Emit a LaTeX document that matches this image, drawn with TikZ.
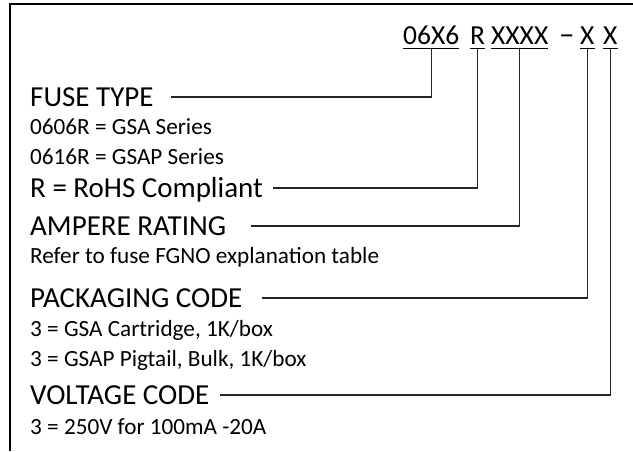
\documentclass[tikz,border=0pt]{standalone}
\usepackage{fontspec}
\setmainfont{Carlito}
\begin{document}
\begin{tikzpicture}[x=1pt,y=1pt,
  big/.style={inner sep=0pt, anchor=base west, font=\fontsize{29}{29}\selectfont},
  code/.style={inner sep=0pt, anchor=base west, font=\fontsize{27.5}{27.5}\selectfont},
  small/.style={inner sep=0pt, anchor=base west, font=\fontsize{23.2}{23.2}\selectfont},
  conn/.style={line width=1.1pt, black!85},
  uline/.style={line width=1.2pt},
  frame/.style={line width=1.6pt}]
\useasboundingbox (0,0) rectangle (633,-451);
\draw[frame] (10,-451) -- (10,-4) -- (633,-4);
% code groups
\node[code] (c1) at (403,-44) {06X6};
\node[code] (c2) at (470,-44) {R};
\node[code] (c3) at (491,-44) {XXXX};
\node[code] (cd) at (559,-44) {\fontsize{31}{31}\selectfont –};
\node[code] (c4) at (580,-44) {X};
\node[code] (c5) at (603,-44) {X};
\foreach \n in {c1,c2,c3,c4,c5}
  \draw[uline] ([yshift=-4.5pt]\n.base west) -- ([yshift=-4.5pt]\n.base east);
% labels
\node[big] (l1) at (30,-106.3) {FUSE TYPE};
\node[small] (s1) at (30,-134.5) {0606R = GSA Series};
\node[small] (s2) at (30,-164.5) {0616R = GSAP Series};
\node[big] (l2) at (30,-197.3) {R = RoHS Compliant};
\node[big] (l3) at (30,-235.3) {AMPERE RATING};
\node[small] (s3) at (30,-263.5) {Refer to fuse FGNO explanation table};
\node[big] (l4) at (30,-307.3) {PACKAGING CODE};
\node[small] (s4) at (30,-336.5) {3 = GSA Cartridge, 1K/box};
\node[small] (s5) at (30,-366.5) {3 = GSAP Pigtail, Bulk, 1K/box};
\node[big] (l5) at (30,-404.3) {VOLTAGE CODE};
\node[small] (s6) at (30,-434.5) {3 = 250V for 100mA -20A};
% connectors
\draw[conn] ([yshift=-4.5pt]c1.base) |- ([xshift=17pt,yshift=9.3pt]l1.base east);
\draw[conn] ([yshift=-4.5pt]c2.base) |- ([xshift=10pt,yshift=9.3pt]l2.base east);
\draw[conn] ([yshift=-4.5pt]c3.base) |- ([xshift=25pt,yshift=9.3pt]l3.base east);
\draw[conn] ([yshift=-4.5pt]c4.base) |- ([xshift=20pt,yshift=9.3pt]l4.base east);
\draw[conn] ([yshift=-4.5pt]c5.base) |- ([xshift=10pt,yshift=9.3pt]l5.base east);
\end{tikzpicture}
\end{document}
